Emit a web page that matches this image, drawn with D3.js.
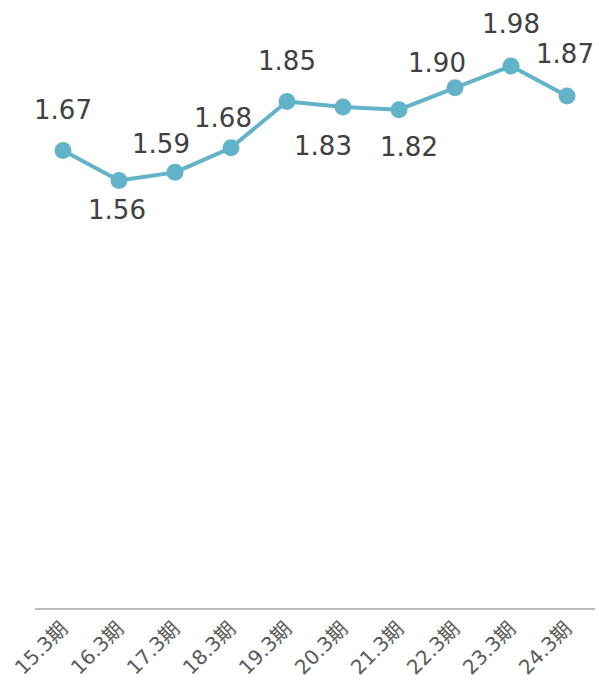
<!DOCTYPE html>
<html><head><meta charset="utf-8">
<script src="https://cdn.jsdelivr.net/npm/d3@7"></script>
<style>
html,body{margin:0;padding:0;background:#fff;}
svg{display:block;font-family:"DejaVu Sans",Verdana,"Noto Sans CJK JP",sans-serif;}
</style></head>
<body>
<svg id="chart" width="599" height="685"></svg>
<script>
const categories = ["15.3期","16.3期","17.3期","18.3期","19.3期","20.3期","21.3期","22.3期","23.3期","24.3期"];
const values = [1.67,1.56,1.59,1.68,1.85,1.83,1.82,1.90,1.98,1.87];
// label placement offsets (dx, dy) relative to each point, as laid out in the original
const labelDx = [0,-2,-14,-8,0,-20,10,-18,0,-2];
const labelDy = [-32,38,-19,-21,-31,48,46,-16,-33,-33];

const svg = d3.select("#chart");
const left = 35, right = 595, baseY = 609;

const x = d3.scaleBand().domain(categories).range([left, right]).padding(0);
const y = d3.scaleLinear().domain([0, 2.2]).range([606, 6]);
const cx = d => x(d) + x.bandwidth()/2;

svg.append("line").attr("x1", left).attr("x2", right).attr("y1", baseY).attr("y2", baseY)
  .attr("stroke", "#a6a6a6").attr("stroke-width", 1.5);

svg.append("g").selectAll("text").data(categories).join("text")
  .attr("transform", d => `translate(${cx(d)+6},${baseY+21}) rotate(-45)`)
  .attr("text-anchor", "end")
  .attr("font-size", 20)
  .attr("fill", "#595959")
  .text(d => d);

const pts = categories.map((c,i) => ({c, v: values[i], dx: labelDx[i], dy: labelDy[i]}));

svg.append("path").datum(pts)
  .attr("fill", "none").attr("stroke", "#63b3c8").attr("stroke-width", 4)
  .attr("stroke-linejoin", "round")
  .attr("d", d3.line().x(d => cx(d.c)).y(d => y(d.v)));

svg.append("g").selectAll("circle").data(pts).join("circle")
  .attr("cx", d => cx(d.c)).attr("cy", d => y(d.v)).attr("r", 8.5)
  .attr("fill", "#63b3c8");

svg.append("g").selectAll("text").data(pts).join("text")
  .attr("x", d => cx(d.c) + d.dx)
  .attr("y", d => y(d.v) + d.dy)
  .attr("text-anchor", "middle")
  .attr("font-size", 26)
  .attr("fill", "#404040")
  .text(d => d.v.toFixed(2));
</script>
</body></html>
